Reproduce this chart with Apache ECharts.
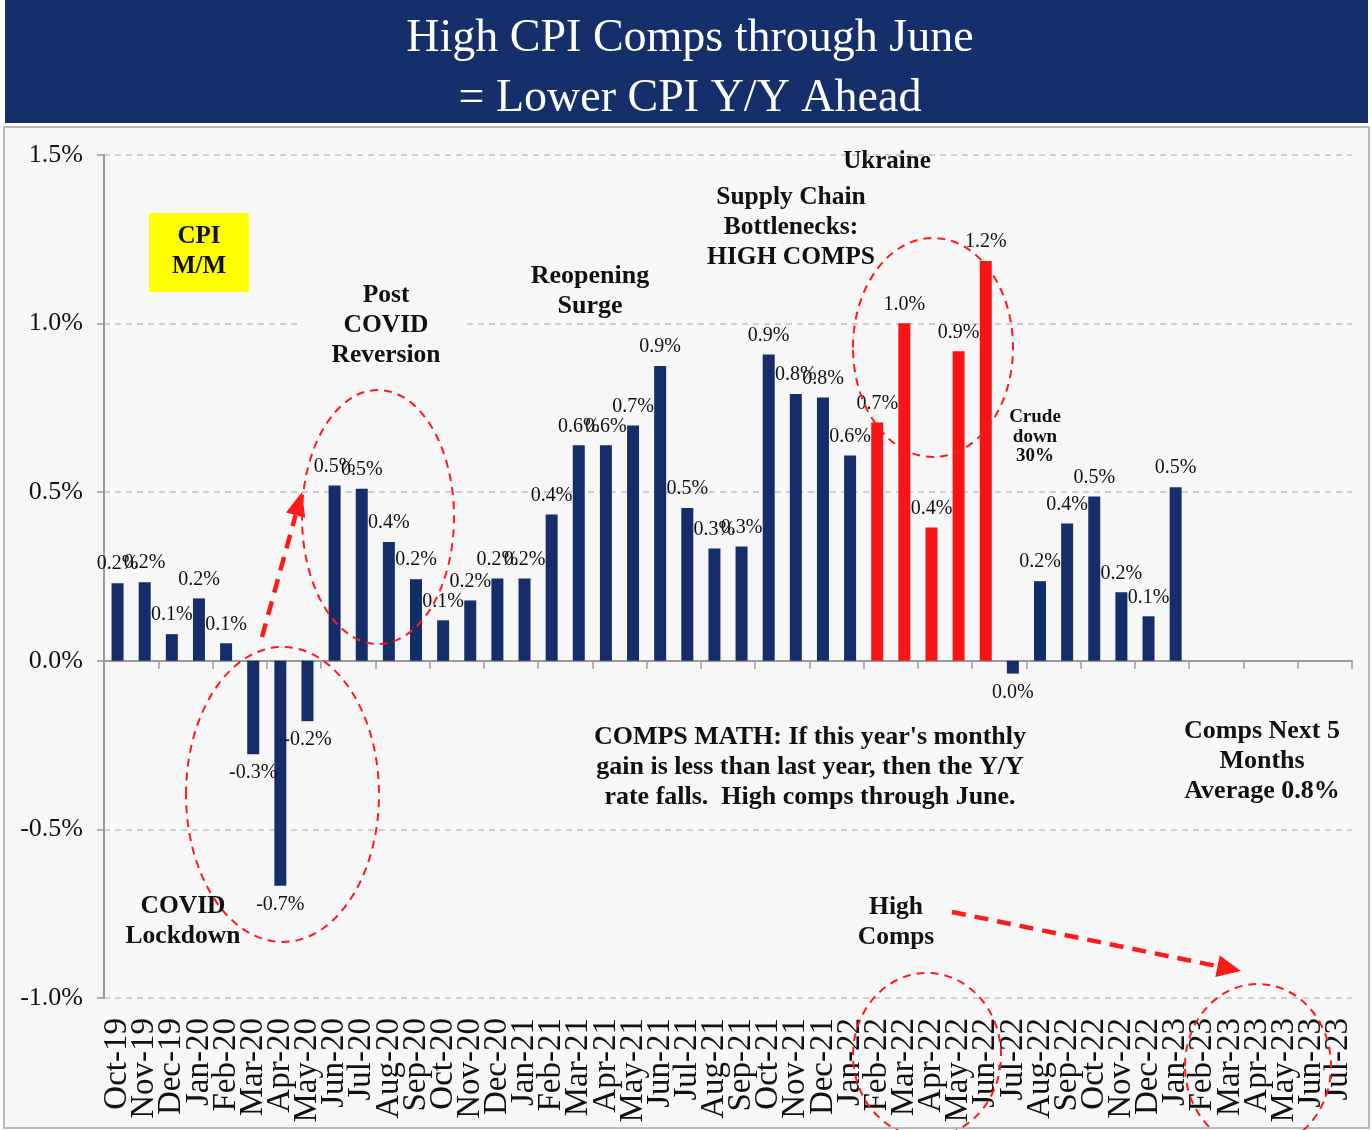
<!DOCTYPE html>
<html>
<head>
<meta charset="utf-8">
<script src="https://cdn.jsdelivr.net/npm/echarts@6/dist/echarts.min.js"></script>
<style>
html,body{margin:0;padding:0;background:#fff;}
#chart{width:1372px;height:1130px;}
</style>
</head>
<body>
<div id="chart"></div>
<script>
// ---- Data ----
const months = ['Oct-19','Nov-19','Dec-19','Jan-20','Feb-20','Mar-20','Apr-20','May-20','Jun-20','Jul-20','Aug-20','Sep-20','Oct-20','Nov-20','Dec-20','Jan-21','Feb-21','Mar-21','Apr-21','May-21','Jun-21','Jul-21','Aug-21','Sep-21','Oct-21','Nov-21','Dec-21','Jan-22','Feb-22','Mar-22','Apr-22','May-22','Jun-22','Jul-22','Aug-22','Sep-22','Oct-22','Nov-22','Dec-22','Jan-23','Feb-23','Mar-23','Apr-23','May-23','Jun-23','Jul-23'];
const cpiMoM = [0.23,0.233,0.079,0.185,0.052,-0.277,-0.667,-0.179,0.52,0.51,0.352,0.242,0.12,0.179,0.244,0.244,0.434,0.639,0.639,0.698,0.874,0.453,0.333,0.339,0.908,0.791,0.781,0.609,0.707,1.001,0.395,0.918,1.186,-0.038,0.236,0.407,0.487,0.203,0.132,0.515,null,null,null,null,null,null];
const highCompMonths = ['Feb-22','Mar-22','Apr-22','May-22','Jun-22'];
const yTicks = {min:-1.0, max:1.5, interval:0.5};

const NAVY = '#152e69', RED = '#f71414', SERIF = '"Liberation Serif", "Times New Roman", serif';

function fmt(v){ const s = (Math.abs(v) < 0.05 ? 0 : v).toFixed(1); return s + '%'; }
function item(v){
  if (v === null) return null;
  return { value: v, label: { position: v < 0 ? 'bottom' : 'top' } };
}
const navyData = months.map((m,i)=> highCompMonths.includes(m) ? null : item(cpiMoM[i]));
const redData  = months.map((m,i)=> highCompMonths.includes(m) ? item(cpiMoM[i]) : null);

const barLabel = { show: true, distance: 9, fontFamily: SERIF, fontSize: 20, color: '#111',
  formatter: p => fmt(p.value) };

// ---- Annotations (decorations) ----
function txt(x, y, text, size, lh){
  return { type:'text', x:x, y:y, z:100,
    style:{ text:text, font:'bold '+size+'px '+SERIF, fill:'#111', align:'center', verticalAlign:'middle', lineHeight: lh || 30 } };
}
function ellipse(cx, cy, rx, ry){
  return { type:'ellipse', z:90, shape:{cx:cx,cy:cy,rx:rx,ry:ry},
    style:{ fill:null, stroke:'#ff1a1a', lineWidth:2, lineDash:[8,6] } };
}
function arrow(x1,y1,x2,y2,hl,hw){
  const dx=x2-x1, dy=y2-y1, L=Math.hypot(dx,dy), ux=dx/L, uy=dy/L;
  const bx=x2-ux*hl, by=y2-uy*hl;
  return [
    { type:'line', z:90, shape:{x1:x1,y1:y1,x2:bx,y2:by}, style:{ stroke:'#ff1a1a', lineWidth:4.5, lineDash:[14,9] } },
    { type:'polygon', z:90, shape:{ points:[[x2,y2],[bx-uy*hw,by+ux*hw],[bx+uy*hw,by-ux*hw]] }, style:{ fill:'#ff1a1a' } }
  ];
}

const graphics = [
  { type:'rect', z:-5, shape:{x:4,y:127,width:1365,height:1001}, style:{ fill:'#f7f7f7', stroke:'#b9b9b9', lineWidth:2 } },
  { type:'rect', z:-5, shape:{x:5,y:0,width:1363,height:123}, style:{ fill:'#142f6a' } },
  { type:'text', z:100, x:690, y:39, style:{ text:'High CPI Comps through June', font:'46px '+SERIF, fill:'#fff', align:'center', verticalAlign:'middle' } },
  { type:'text', z:100, x:690, y:99, style:{ text:'= Lower CPI Y/Y Ahead', font:'46px '+SERIF, fill:'#fff', align:'center', verticalAlign:'middle' } },
  { type:'rect', z:95, shape:{x:149,y:213,width:100,height:79}, style:{ fill:'#ffff00' } },
  txt(199, 252, 'CPI\nM/M', 25),
  { type:'rect', z:95, shape:{x:302,y:311,width:165,height:26}, style:{ fill:'#f7f7f7' } },
  txt(386, 325, 'Post\nCOVID\nReversion', 25.5),
  txt(590, 291, 'Reopening\nSurge', 26),
  txt(791, 227, 'Supply Chain\nBottlenecks:\nHIGH COMPS', 25.5),
  txt(887, 162, 'Ukraine', 25),
  txt(1035, 437, 'Crude\ndown\n30%', 19, 19.5),
  txt(810, 767, "COMPS MATH: If this year's monthly\ngain is less than last year, then the Y/Y\nrate falls.  High comps through June.", 26),
  txt(1262, 761, 'Comps Next 5\nMonths\nAverage 0.8%', 26),
  txt(896, 922, 'High\nComps', 25.5),
  txt(183, 921, 'COVID\nLockdown', 25.5),
  ellipse(282.5, 794.5, 96.5, 147.5),
  ellipse(378, 517, 76, 127),
  ellipse(933, 347.5, 80, 109.5),
  ellipse(927, 1055, 74, 82),
  ellipse(1258, 1066, 73, 82)
].concat(arrow(262,637,302,492,24,10), arrow(952,912,1241,971,24,11));

const chart = echarts.init(document.getElementById('chart'), null, {renderer:'canvas'});
chart.setOption({
  backgroundColor: '#ffffff',
  animation: false,
  grid: { left:104, right:20, top:155, bottom:132, containLabel:false, outerBoundsMode:'none' },
  xAxis: [
    { type:'category', data: months, position:'bottom', boundaryGap:true,
      axisLine:{ show:false, onZero:false }, axisTick:{ show:false },
      axisLabel:{ interval:0, rotate:90, margin:20, fontFamily:SERIF, fontSize:33, color:'#111' },
      splitLine:{ show:false } },
    { type:'category', data: months, position:'bottom', boundaryGap:true,
      axisLine:{ show:true, onZero:true, lineStyle:{ color:'#9a9a9a', width:2 } },
      axisTick:{ show:true, length:8, inside:false, lineStyle:{ color:'#9a9a9a', width:1.5 } },
      axisLabel:{ show:false }, splitLine:{ show:false } }
  ],
  yAxis: { type:'value', min:yTicks.min, max:yTicks.max, interval:yTicks.interval,
    axisLine:{ show:true, lineStyle:{ color:'#9a9a9a', width:2 } },
    axisTick:{ show:true, length:7, lineStyle:{ color:'#9a9a9a', width:1.5 } },
    axisLabel:{ margin:21, fontFamily:SERIF, fontSize:26, color:'#111', formatter: v => v.toFixed(1)+'%' },
    splitLine:{ show:true, lineStyle:{ color:'#c2c2c2', width:1.5, type:[6,5] } } },
  series: [
    { type:'bar', name:'CPI M/M', xAxisIndex:0, data: navyData, barWidth:12, barGap:'-100%',
      itemStyle:{ color: NAVY }, label: barLabel, z:5 },
    { type:'bar', name:'High comps', xAxisIndex:0, data: redData, barWidth:12, barGap:'-100%',
      itemStyle:{ color: RED }, label: barLabel, z:5 }
  ],
  graphic: { elements: graphics }
});
</script>
</body>
</html>
